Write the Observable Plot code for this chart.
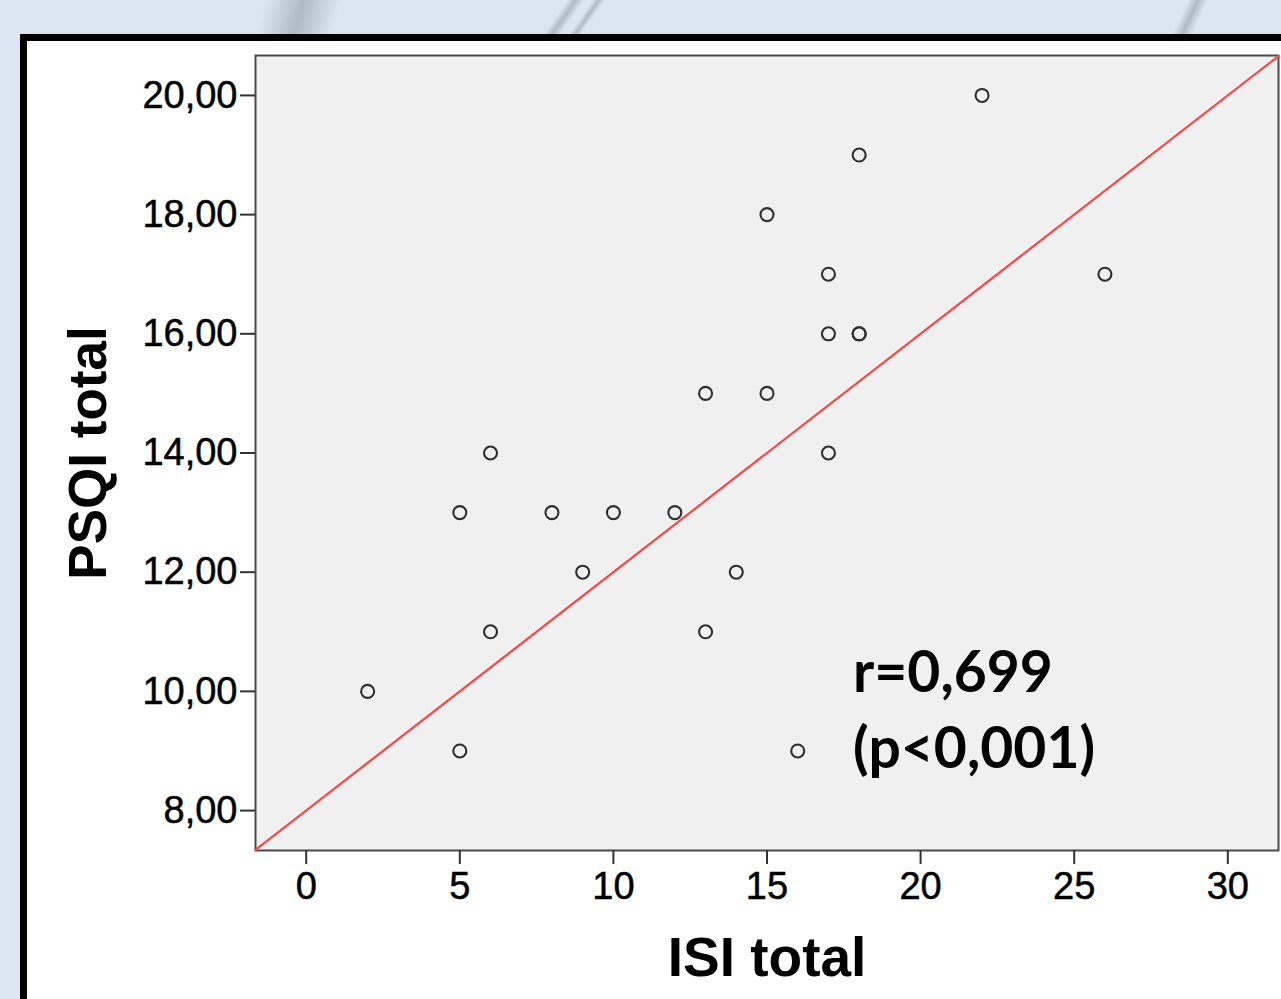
<!DOCTYPE html>
<html>
<head>
<meta charset="utf-8">
<script src="https://cdn.jsdelivr.net/npm/d3@7"></script>
<script src="https://cdn.jsdelivr.net/npm/@observablehq/plot@0.6"></script>
<style>
  html, body { margin: 0; padding: 0; }
  body { width: 1281px; height: 999px; overflow: hidden; background: #dce6f2; position: relative; font-family: 'Liberation Sans', Arial, sans-serif; }
  .deco { position: absolute; background: linear-gradient(90deg, rgba(150,160,170,0), rgba(140,150,160,0.55), rgba(150,160,170,0)); }
  #panel { position: absolute; left: 20px; top: 34px; width: 1300px; height: 1010px; background: #fff; border: 7px solid #000; box-sizing: border-box; }
  #chart { position: absolute; left: 0; top: 0; }
  #chart g[aria-label="x-axis tick label"] text,
  #chart g[aria-label="y-axis tick label"] text { stroke: #000; stroke-width: 0.5px; }
</style>
</head>
<body>
<div class="deco" style="left:262px;top:-20px;width:75px;height:70px;transform:skewX(-14deg);"></div>
<div class="deco" style="left:555px;top:-10px;width:14px;height:60px;transform:rotate(35deg);"></div>
<div class="deco" style="left:580px;top:-10px;width:10px;height:60px;transform:rotate(35deg);"></div>
<div class="deco" style="left:1180px;top:-10px;width:18px;height:60px;transform:rotate(25deg);"></div>
<div id="panel"></div>
<div id="chart"></div>
<script>
// Data
const isiTotal  = [22, 18, 15, 17, 26, 17, 18, 18, 13, 15, 6, 17, 5, 8, 10, 12, 9, 14, 6, 13, 2, 5, 16];
const psqiTotal = [20, 19, 18, 17, 17, 16, 16, 16, 15, 15, 14, 14, 13, 13, 13, 13, 12, 12, 11, 11, 10, 9, 9];

const xTicks = [0, 5, 10, 15, 20, 25, 30];
const xTickLabels = ["0", "5", "10", "15", "20", "25", "30"];
const yTicks = [8, 10, 12, 14, 16, 18, 20];
const yTickLabels = ["8,00", "10,00", "12,00", "14,00", "16,00", "18,00", "20,00"];

const xDomain = [-1.65, 31.65];
const yDomain = [7.33, 20.67];

// fit line: PSQI = 8.0 + 0.4 * ISI
const fitIntercept = 8.0;
const fitSlope = 0.4;

const annotText = ["r=0,699", "(p<0,001)"];
const annotX = [17.8, 17.8];
const annotY = [10.29, 9.02];

const xLabel = "ISI total";
const yLabel = "PSQI total";

// Build tables
const points = isiTotal.map((x, i) => ({isi: x, psqi: psqiTotal[i]}));
const fitLine = xDomain.map(x => ({x, y: fitIntercept + fitSlope * x}));
const annot = annotText.map((t, i) => ({t, x: annotX[i], y: annotY[i]}));

const chart = Plot.plot({
  width: 1281,
  height: 999,
  marginLeft: 255,
  marginRight: 3,
  marginTop: 55,
  marginBottom: 149,
  style: {background: "transparent", fontFamily: "'Liberation Sans', Arial, sans-serif", fontSize: "38px", color: "#000", overflow: "visible"},
  x: {domain: xDomain, label: null},
  y: {domain: yDomain, label: null},
  marks: [
    Plot.frame({fill: "#f0f0f0", stroke: "#4a4a4a", strokeWidth: 2}),
    Plot.line(fitLine, {x: "x", y: "y", stroke: "#ee4e4c", strokeWidth: 2.3}),
    Plot.dot(points, {x: "isi", y: "psqi", r: 6.5, stroke: "#2e2e2e", strokeWidth: 2.1, fill: "none"}),
    Plot.axisX({ticks: xTicks, tickFormat: d => xTickLabels[xTicks.indexOf(d)], tickSize: 14, tickPadding: 8, stroke: "#333", strokeWidth: 2, fill: "#000", label: null, fontSize: 38}),
    Plot.axisY({ticks: yTicks, tickFormat: d => yTickLabels[yTicks.indexOf(d)], tickSize: 15, tickPadding: 3, stroke: "#333", strokeWidth: 2, fill: "#000", label: null, fontSize: 38}),
    Plot.text(annot, {x: "x", y: "y", text: "t", textAnchor: "start", fontFamily: "Lato, 'Open Sans', sans-serif", fontWeight: "bold", fontSize: 57, fill: "#000"}),
    Plot.text([xLabel], {text: d => d, frameAnchor: "bottom", textAnchor: "middle", dy: 125, fontSize: 55, fontWeight: "bold", fill: "#000"}),
    Plot.text([yLabel], {text: d => d, frameAnchor: "left", textAnchor: "middle", lineAnchor: "middle", dx: -166, rotate: -90, fontSize: 53, fontWeight: "bold", fill: "#000"})
  ]
});
document.getElementById("chart").appendChild(chart);
</script>
</body>
</html>
